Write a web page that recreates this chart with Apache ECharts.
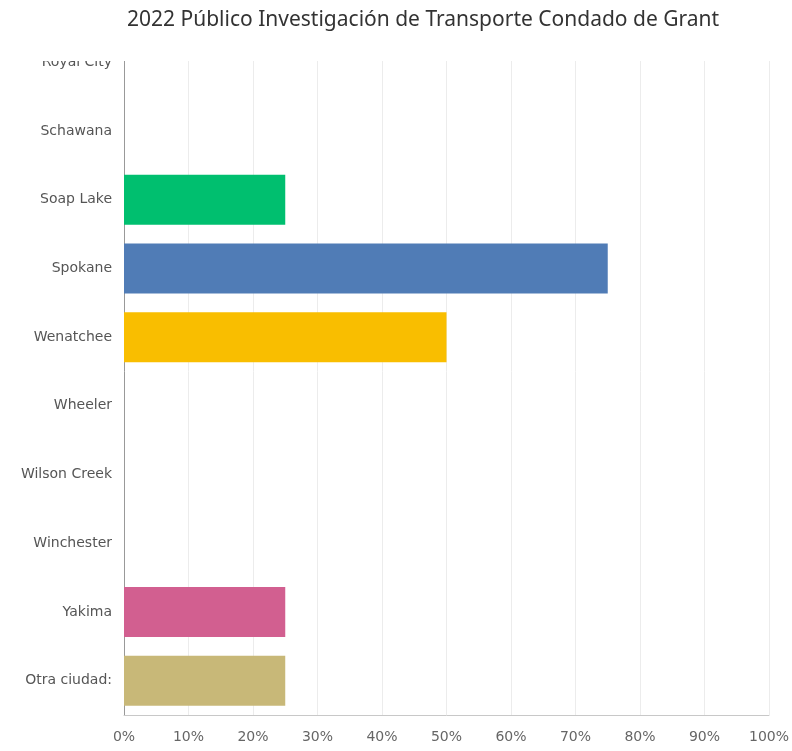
<!DOCTYPE html>
<html><head><meta charset="utf-8">
<script src="https://cdn.jsdelivr.net/npm/echarts@6/dist/echarts.min.js"></script>
<style>html,body{margin:0;padding:0;background:#fff;overflow:hidden}#c{width:792px;height:751px}</style>
</head><body><div id="c"></div>
<script>
const titleText = '2022 Público Investigación de Transporte Condado de Grant';
const categories = ['Royal City','Schawana','Soap Lake','Spokane','Wenatchee','Wheeler','Wilson Creek','Winchester','Yakima','Otra ciudad:'];
const values = [0,0,25,75,50,0,0,0,25,25];
const barColors = ['#6bc8cd','#a5a5a5','#00bf6f','#507cb6','#f9be00','#ff8b4f','#7d5ec7','#aaaaaa','#d25f90','#c8b878'];
const xTicks = [0,10,20,30,40,50,60,70,80,90,100];

const chart = echarts.init(document.getElementById('c'), null, {renderer:'canvas', width:792, height:751});
chart.setOption({
  animation:false,
  backgroundColor:'#fff',
  title:{text:titleText,left:122,top:5,zlevel:1,
    textStyle:{fontFamily:'Noto Sans',fontSize:21,fontWeight:'normal',color:'#333'}},
  graphic:[{type:'rect',zlevel:0,z:100,shape:{x:0,y:0,width:792,height:61},style:{fill:'#fff'}}],
  grid:{left:124,right:18,top:28,bottom:36,containLabel:false},
  xAxis:{type:'value',min:xTicks[0],max:xTicks[xTicks.length-1],interval:10,
    axisLine:{show:true,lineStyle:{color:'#c8c8c8'}},axisTick:{show:false},
    splitLine:{show:true,lineStyle:{color:'#ececec'}},
    axisLabel:{formatter:'{value}%',color:'#666',fontFamily:'DejaVu Sans',fontSize:14,margin:15}},
  yAxis:{type:'category',data:categories,inverse:true,
    axisLine:{show:true,lineStyle:{color:'#999'}},axisTick:{show:false},
    axisLabel:{color:'#555',fontFamily:'DejaVu Sans',fontSize:14,margin:12}},
  series:[{type:'bar',barWidth:50,
    data:values.map((v,i)=>({value:v,itemStyle:{color:barColors[i]}}))}]
});
</script></body></html>
